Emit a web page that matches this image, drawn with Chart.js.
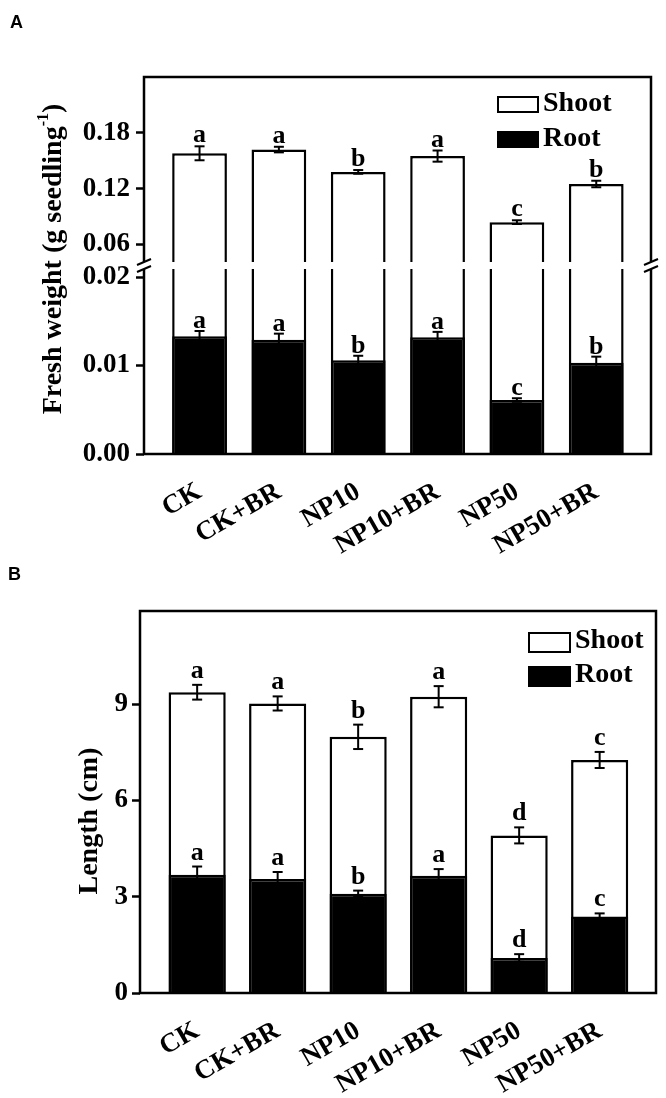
<!DOCTYPE html>
<html>
<head>
<meta charset="utf-8">
<script src="https://cdn.jsdelivr.net/npm/chart.js@4.4.1/dist/chart.umd.min.js"></script>
<style>
  body { margin: 0; background: #fff; width: 666px; height: 1098px; position: relative; overflow: hidden; }
  .panel { position: absolute; left: 0; width: 666px; }
  .tag { position: absolute; font: bold 18px "Liberation Sans", Arial, sans-serif; color: #000; }
</style>
</head>
<body>
<div class="panel" style="top:0; height:555px;"><canvas id="fwChart"></canvas></div>
<div class="panel" style="top:555px; height:543px;"><canvas id="lenChart"></canvas></div>
<div class="tag" style="left:10px; top:12px;">A</div>
<div class="tag" style="left:8px; top:564px;">B</div>
<script>
// treatments
const categories = ['CK', 'CK+BR', 'NP10', 'NP10+BR', 'NP50', 'NP50+BR'];

// A: fresh weight (g seedling-1)
const fwShoot = [0.158, 0.162, 0.138, 0.155, 0.084, 0.125];
const fwShootErr = [0.0075, 0.003, 0.002, 0.006, 0.002, 0.0035];
const fwShootLetters = ['a', 'a', 'b', 'a', 'c', 'b'];
const fwRoot = [0.0133, 0.0129, 0.0106, 0.0132, 0.0061, 0.0103];
const fwRootErr = [0.0006, 0.0007, 0.0005, 0.0006, 0.0002, 0.0007];
const fwRootLetters = ['a', 'a', 'b', 'a', 'c', 'b'];
const fwLowerTicks = [0.00, 0.01, 0.02];
const fwUpperTicks = [0.06, 0.12, 0.18];

// B: length (cm)
const lenShoot = [9.37, 9.02, 7.98, 9.23, 4.91, 7.26];
const lenShootErr = [0.23, 0.22, 0.38, 0.33, 0.25, 0.25];
const lenShootLetters = ['a', 'a', 'b', 'a', 'd', 'c'];
const lenRoot = [3.68, 3.55, 3.09, 3.65, 1.09, 2.38];
const lenRootErr = [0.26, 0.22, 0.10, 0.21, 0.12, 0.10];
const lenRootLetters = ['a', 'a', 'b', 'a', 'd', 'c'];
const lenTicks = [0, 3, 6, 9];

// broken axis limits for A
const fwLowMax = 0.0213;
const fwUpMin = 0.0374;
const fwUpMax = 0.24;

const serif = '"Liberation Serif", "Times New Roman", serif';

function line(ctx, x1, y1, x2, y2) {
    ctx.beginPath();
    ctx.moveTo(x1, y1);
    ctx.lineTo(x2, y2);
    ctx.stroke();
}

// frame, axis break, error bars, letters, legend, y title
const decor = {
    id: 'decor',
    afterDatasetsDraw(chart, args, opts) {
        const ctx = chart.ctx, a = chart.chartArea;
        ctx.save();
        ctx.strokeStyle = '#000';
        ctx.lineWidth = 2.5;
        ctx.strokeRect(a.left, a.top, a.width, a.height);

        if (opts.breakScale) {
            const j = chart.scales[opts.breakScale].bottom;
            ctx.fillStyle = '#fff';
            ctx.fillRect(a.left - 3, j - 3.5, a.width + 6, 7);
            ctx.lineWidth = 2;
            [a.left, a.right].forEach(x => {
                [-3.5, 3.5].forEach(k => line(ctx, x - 7, j + k + 3, x + 7, j + k - 3));
            });
        }

        chart.data.datasets.forEach((ds, di) => {
            if (!ds.errors) return;
            const meta = chart.getDatasetMeta(di);
            const ys = chart.scales[meta.yAxisID];
            meta.data.forEach((bar, i) => {
                const v = ds.data[i], e = ds.errors[i];
                const yt = ys.getPixelForValue(v + e), yb = ys.getPixelForValue(v - e);
                ctx.strokeStyle = '#000';
                ctx.lineWidth = 2;
                line(ctx, bar.x, yt, bar.x, yb);
                line(ctx, bar.x - 5, yt, bar.x + 5, yt);
                line(ctx, bar.x - 5, yb, bar.x + 5, yb);
                ctx.fillStyle = '#000';
                ctx.font = 'bold 26px ' + serif;
                ctx.textAlign = 'center';
                ctx.textBaseline = 'alphabetic';
                ctx.fillText(ds.letters[i], bar.x, yt - ds.letterGap);
            });
        });
        ctx.restore();
    },
    afterDraw(chart, args, opts) {
        const ctx = chart.ctx, a = chart.chartArea, lg = opts.legend;
        ctx.save();
        // legend
        const items = [];
        chart.data.datasets.forEach(ds => {
            if (!items.some(it => it.label === ds.label)) items.push(ds);
        });
        items.forEach((ds, k) => {
            const x = a.right - lg.dx, y = a.top + lg.dy[k];
            ctx.fillStyle = ds.backgroundColor;
            ctx.fillRect(x, y, lg.w, lg.h);
            ctx.strokeStyle = '#000';
            ctx.lineWidth = 2;
            ctx.strokeRect(x, y, lg.w, lg.h);
            ctx.fillStyle = '#000';
            ctx.font = 'bold 28px ' + serif;
            ctx.textAlign = 'left';
            ctx.textBaseline = 'alphabetic';
            ctx.fillText(ds.label, x + lg.w + lg.gap, y + lg.h - lg.base);
        });
        // y title, rotated, with optional superscript part
        const t = opts.title;
        const fBig = 'bold 28px ' + serif, fSup = 'bold 16px ' + serif;
        let total = 0;
        t.parts.forEach(p => { ctx.font = p.sup ? fSup : fBig; total += ctx.measureText(p.text).width; });
        ctx.translate(t.x, t.y);
        ctx.rotate(-Math.PI / 2);
        ctx.textAlign = 'left';
        ctx.textBaseline = 'middle';
        let cx = -total / 2;
        t.parts.forEach(p => {
            ctx.font = p.sup ? fSup : fBig;
            ctx.fillText(p.text, cx, p.sup ? -10 : 0);
            cx += ctx.measureText(p.text).width;
        });
        ctx.restore();
    }
};

function xAxis(min, max, height) {
    return {
        type: 'linear', min: min, max: max, offset: false,
        afterBuildTicks: s => { s.ticks = categories.map((c, i) => ({ value: i })); },
        afterFit: s => { s.height = height; },
        ticks: {
            autoSkip: false, maxRotation: 30, minRotation: 30, padding: 14, color: '#000',
            font: { family: serif, size: 27, weight: 'bold' },
            callback: v => categories[v]
        },
        grid: { display: false, offset: false },
        border: { display: false }
    };
}

function yAxis(min, max, ticks, width, digits, pad, extra) {
    return Object.assign({
        type: 'linear', position: 'left', min: min, max: max,
        afterBuildTicks: s => { s.ticks = ticks.map(v => ({ value: v })); },
        afterFit: s => { s.width = width; },
        ticks: {
            color: '#000', padding: pad,
            font: { family: serif, size: 27, weight: 'bold' },
            callback: v => v.toFixed(digits)
        },
        grid: { display: true, drawOnChartArea: false, drawTicks: true, tickLength: 8, tickWidth: 2.5, tickColor: '#000' },
        border: { display: false }
    }, extra || {});
}

new Chart(document.getElementById('fwChart'), {
    type: 'bar',
    data: {
        labels: categories.map((c, i) => i),
        datasets: [
            { label: 'Shoot', data: fwShoot, errors: fwShootErr, letters: fwShootLetters, letterGap: 4,
              yAxisID: 'yUp', backgroundColor: '#fff', borderColor: '#000', borderWidth: 2.5, order: 2 },
            { label: 'Shoot', data: fwShoot.map(v => Math.min(v, fwLowMax)),
              yAxisID: 'yLow', backgroundColor: '#fff', borderColor: '#000', borderWidth: 2.5, order: 2 },
            { label: 'Root', data: fwRoot, errors: fwRootErr, letters: fwRootLetters, letterGap: 3,
              yAxisID: 'yLow', backgroundColor: '#000', borderColor: '#000', borderWidth: 2.5, order: 1 }
        ]
    },
    options: {
        responsive: true, maintainAspectRatio: false, animation: false,
        layout: { padding: { top: 77, right: 15, left: 0, bottom: 0 } },
        datasets: { bar: { grouped: false, categoryPercentage: 1, barPercentage: 0.69 } },
        plugins: {
            legend: { display: false }, tooltip: { enabled: false },
            decor: {
                breakScale: 'yUp',
                legend: { dx: 153, dy: [20, 55], w: 40, h: 15, gap: 5, base: 1 },
                title: { x: 54, y: 259, parts: [{ text: 'Fresh weight (g seedling' }, { text: '-1', sup: true }, { text: ')' }] }
            }
        },
        scales: {
            x: xAxis(-0.7, 5.69, 101),
            yLow: yAxis(0, fwLowMax, fwLowerTicks, 144, 2, 6, { stack: 'fw', stackWeight: 1, weight: 0 }),
            yUp: yAxis(fwUpMin, fwUpMax, fwUpperTicks, 144, 2, 6, { stack: 'fw', stackWeight: 1, weight: 1 })
        }
    },
    plugins: [decor]
});

new Chart(document.getElementById('lenChart'), {
    type: 'bar',
    data: {
        labels: categories.map((c, i) => i),
        datasets: [
            { label: 'Shoot', data: lenShoot, errors: lenShootErr, letters: lenShootLetters, letterGap: 7,
              backgroundColor: '#fff', borderColor: '#000', borderWidth: 2.5, order: 2 },
            { label: 'Root', data: lenRoot, errors: lenRootErr, letters: lenRootLetters, letterGap: 7,
              backgroundColor: '#000', borderColor: '#000', borderWidth: 2.5, order: 1 }
        ]
    },
    options: {
        responsive: true, maintainAspectRatio: false, animation: false,
        layout: { padding: { top: 56, right: 10, left: 0, bottom: 0 } },
        datasets: { bar: { grouped: false, categoryPercentage: 1, barPercentage: 0.71 } },
        plugins: {
            legend: { display: false }, tooltip: { enabled: false },
            decor: {
                legend: { dx: 127, dy: [22, 56], w: 41, h: 19, gap: 5, base: 4 },
                title: { x: 90, y: 266, parts: [{ text: 'Length (cm)' }] }
            }
        },
        scales: {
            x: xAxis(-0.71, 5.70, 105),
            y: yAxis(0, 11.9, lenTicks, 140, 0, 4)
        }
    },
    plugins: [decor]
});
</script>
</body>
</html>
